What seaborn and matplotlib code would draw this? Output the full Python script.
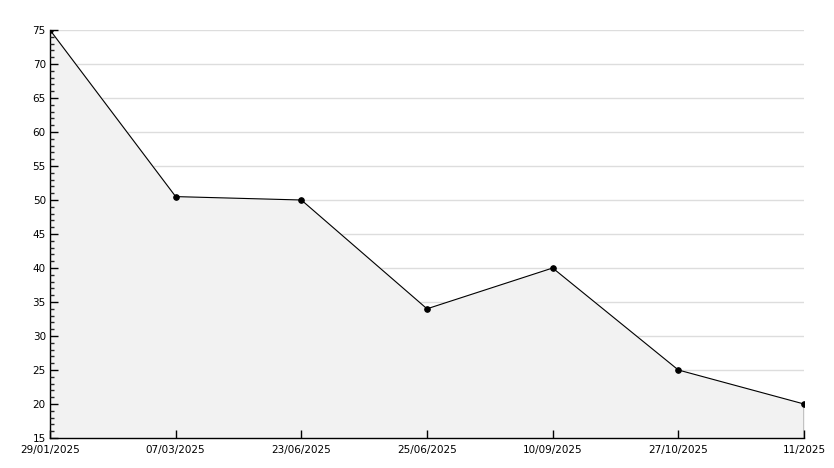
import matplotlib
matplotlib.use("Agg")
import matplotlib.pyplot as plt
from matplotlib.ticker import MultipleLocator
import seaborn as sns
import pandas as pd

sns.set_style("white")
plt.rcParams["font.family"] = ["DejaVu Sans"]

# Data
dates = ["29/01/2025", "07/03/2025", "23/06/2025", "25/06/2025",
         "10/09/2025", "27/10/2025", "11/2025"]
values = [75, 50.5, 50, 34, 40, 25, 20]

df = pd.DataFrame({"pos": range(len(dates)), "value": values})

fig = plt.figure(figsize=(8.34, 4.68), dpi=100)
ax = fig.add_axes([50 / 834, 30 / 468, 754 / 834, 408 / 468])
ax.set_axisbelow(False)

# Horizontal grid lines (hidden behind the fill)
for y in range(20, 80, 5):
    ax.axhline(y, color="#dddddd", linewidth=1, zorder=0.1)

# Filled area under the line
ax.fill_between(df["pos"], df["value"], 15, color="#f2f2f2", zorder=0.3)
ax.vlines(df["pos"].iloc[-1], 15, df["value"].iloc[-1], color="black",
          linewidth=1, zorder=2)
sns.lineplot(data=df, x="pos", y="value", ax=ax, color="black", linewidth=0.8,
             marker="o", markersize=4, markeredgecolor="black", zorder=3)

ax.set_xlim(0, len(dates) - 1)
ax.set_ylim(15, 75)
ax.set_xticks(df["pos"])
ax.set_xticklabels(dates)
ax.yaxis.set_major_locator(MultipleLocator(5))
ax.yaxis.set_minor_locator(MultipleLocator(1))

ax.set_xlabel("")
ax.set_ylabel("")
for side in ["top", "right"]:
    ax.spines[side].set_visible(False)
for side in ["left", "bottom"]:
    ax.spines[side].set_color("black")
    ax.spines[side].set_linewidth(1)

ax.tick_params(axis="y", which="major", direction="in", length=6, width=1,
               labelsize=7.5, pad=3, colors="black", left=True)
ax.tick_params(axis="y", which="minor", direction="in", length=3, width=1, left=True)
ax.tick_params(axis="x", which="major", direction="in", length=6, width=1,
               labelsize=7.5, pad=5, colors="black", bottom=True)

fig.savefig("out.png", dpi=100)
plt.close(fig)
